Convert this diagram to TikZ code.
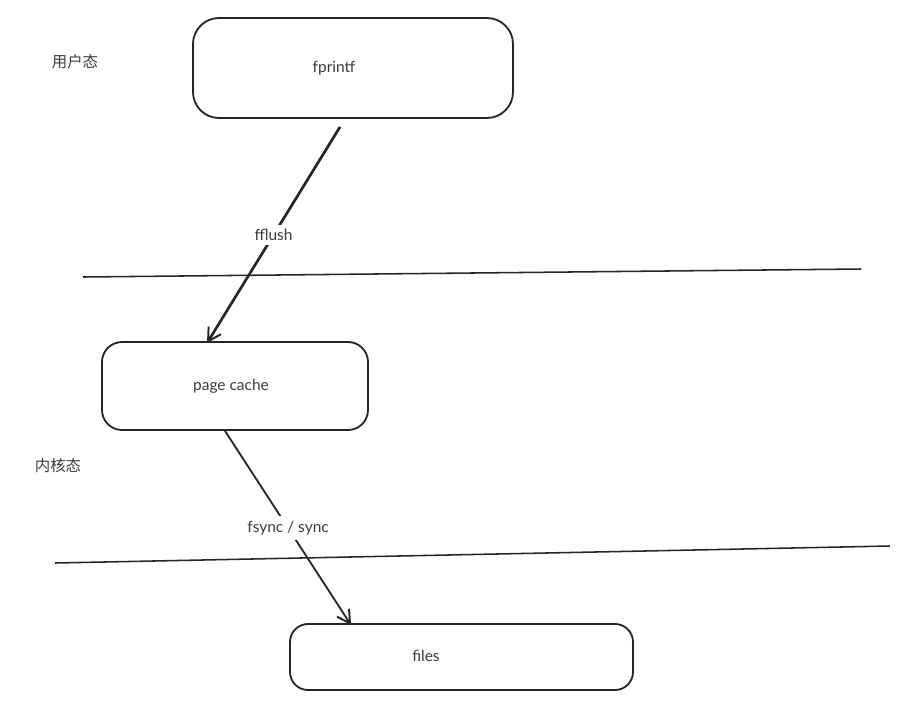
\documentclass[tikz,border=0pt]{standalone}
\usepackage{fontspec}
\setmainfont{Lato}
\newfontfamily\cjk{Noto Sans CJK SC}
\usetikzlibrary{arrows.meta}
\definecolor{inkgray}{HTML}{3C3C3C}
\tikzset{
	box/.style={draw=black!85,line width=1.3pt,fill=white,text=inkgray},
	sepline/.style={draw=black!85,line width=1.1pt},
	flow/.style={-{Straight Barb[length=3.2mm,width=3.6mm,line width=1.4pt]},black!85},
	lbl/.style={text=inkgray,font=\fontsize{11}{13}\selectfont}
}
\begin{document}
\begin{tikzpicture}
	\useasboundingbox (0,0) rectangle (22.625,-17.625);
	\node (fp) [box,rounded corners=0.65cm,minimum width=8cm,minimum height=2.5cm] at (8.825,-1.7) {};
	\node (fptext) [lbl] at (8.35,-1.7) {fprintf};
	\node (pc) [box,rounded corners=0.5cm,minimum width=6.65cm,minimum height=2.2cm] at (5.875,-9.65) {};
	\node (pctext) [lbl] at (5.775,-9.65) {page cache};
	\node (fs) [box,rounded corners=0.45cm,minimum width=8.575cm,minimum height=1.65cm] at (11.5375,-16.425) {};
	\node (fstext) [lbl] at (10.65,-16.4) {files};
	\node (user) [lbl] at (1.875,-1.55) {\cjk 用户态};
	\node (kernel) [lbl] at (1.45,-11.65) {\cjk 内核态};
	\draw [sepline] (2.075,-6.925) -- (21.525,-6.725);
	\draw [sepline] (1.375,-14.075) -- (22.25,-13.65);
	\draw [flow,line width=1.9pt] ([xshift=-0.325cm,yshift=-0.2cm]fp.south) -- node [lbl,fill=white,midway] {fflush} ([xshift=-0.7cm,yshift=-0.05cm]pc.north);
	\draw [flow,line width=1.3pt] ([xshift=-0.25cm]pc.south) -- node [lbl,fill=white,midway] {fsync / sync} ([xshift=1.55cm,yshift=-0.05cm]fs.north west);
\end{tikzpicture}
\end{document}
